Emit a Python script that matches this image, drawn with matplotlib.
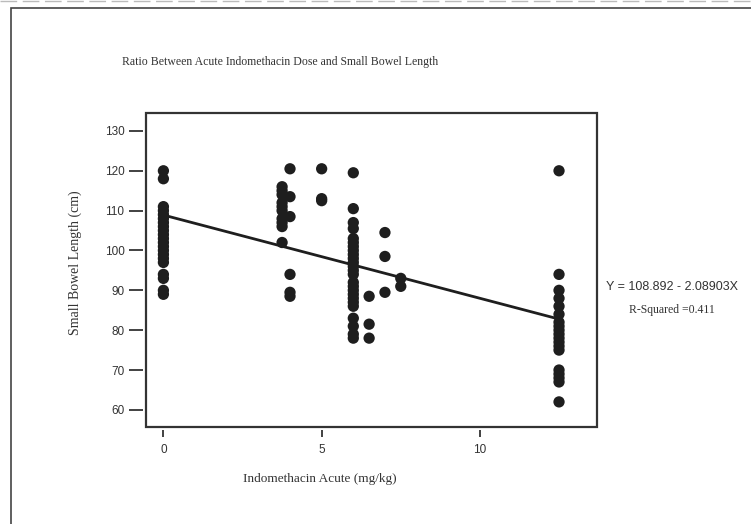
import numpy as np
import matplotlib
matplotlib.use('Agg')
import matplotlib.pyplot as plt
from matplotlib.patches import Rectangle
from matplotlib.lines import Line2D

# dose (mg/kg) -> small bowel lengths (cm)
dose_groups = [0, 3.75, 4, 5, 6, 6.5, 7, 7.5, 12.5]
lengths = [
    [120, 118, 111, 110, 109, 108, 107, 106, 105, 104, 103, 102, 101, 100,
     99, 98, 97, 94, 93, 90, 89],
    [116, 115, 114, 112, 111, 110, 108, 107, 106, 102],
    [120.5, 113.5, 108.5, 94, 89.5, 88.5],
    [120.5, 113, 112.5],
    [119.5, 110.5, 107, 105.5, 103, 102, 101, 100, 99, 98, 97, 96, 95, 94,
     92, 91, 90, 89, 88, 87, 86, 83, 81, 79, 78],
    [88.5, 81.5, 78],
    [104.5, 98.5, 89.5],
    [93, 91],
    [120, 94, 90, 88, 86, 84, 82, 81, 80, 79, 78, 77, 76, 75, 70, 69, 68, 67, 62],
]

intercept = 108.892
slope = -2.08903
r_squared = 0.411

x_ticks = [0, 5, 10]
y_ticks = [60, 70, 80, 90, 100, 110, 120, 130]

title = 'Ratio Between Acute Indomethacin Dose and Small Bowel Length'
x_label = 'Indomethacin Acute (mg/kg)'
y_label = 'Small Bowel Length (cm)'

W, H = 751, 524
fig = plt.figure(figsize=(W / 100, H / 100), dpi=100)
fig.patch.set_facecolor('white')

ax = fig.add_axes([146 / W, 1 - 427 / H, 451 / W, 314 / H])

xs = np.concatenate([[d] * len(v) for d, v in zip(dose_groups, lengths)])
ys = np.concatenate(lengths)
ax.scatter(xs, ys, s=66, color='#1e1e1e', edgecolors='none', zorder=3)

line_x = np.array([dose_groups[0], dose_groups[-1]])
ax.plot(line_x, intercept + slope * line_x, color='#1e1e1e', lw=2.0, zorder=2)

ax.set_xlim(-0.55, 13.7)
ax.set_ylim(55.7, 134.5)
ax.set_xticks(x_ticks)
ax.set_yticks(y_ticks)

# ticks sit a little apart from the frame
for side in ['left', 'bottom']:
    ax.spines[side].set_position(('outward', 2.5))
for side in ax.spines:
    ax.spines[side].set_visible(False)
ax.patch.set_edgecolor('#333333')
ax.patch.set_linewidth(1.6)

ax.tick_params(axis='y', length=10, width=1.3, color='#333333', pad=3,
               labelsize=8.5, labelcolor='#333333')
ax.tick_params(axis='x', length=5, width=1.3, color='#333333', pad=5,
               labelsize=8.5, labelcolor='#333333')
for lab in ax.get_xticklabels() + ax.get_yticklabels():
    lab.set_fontfamily('Liberation Sans')

serif = 'Liberation Serif'
fig.text(122 / W, 1 - 62 / H, title, ha='left', va='center',
         fontsize=8.5, family=serif, color='#333333')
fig.text(320 / W, 1 - 479 / H, x_label, ha='center', va='center',
         fontsize=9.5, family=serif, color='#333333')
fig.text(75 / W, 1 - 263 / H, y_label, ha='center', va='center',
         rotation=90, fontsize=10, family=serif, color='#333333')

fig.text(672 / W, 1 - 287 / H, 'Y = %.3f - %.5fX' % (intercept, -slope),
         ha='center', va='center', fontsize=9, family='Liberation Sans',
         color='#333333')
fig.text(672 / W, 1 - 310 / H, 'R-Squared =%.3f' % r_squared,
         ha='center', va='center', fontsize=8.5, family=serif, color='#333333')

# outer page frame of the scan
fig.add_artist(Rectangle((11 / W, -0.05), 1.0, 1 - 8 / H + 0.05,
                         transform=fig.transFigure, fill=False,
                         edgecolor='#444444', lw=1.2))
fig.add_artist(Line2D([0, 1], [1 - 1 / H, 1 - 1 / H], transform=fig.transFigure,
                      color='#bbbbbb', lw=1.0, ls=(0, (12, 4))))

fig.savefig('out.png', dpi=100)
